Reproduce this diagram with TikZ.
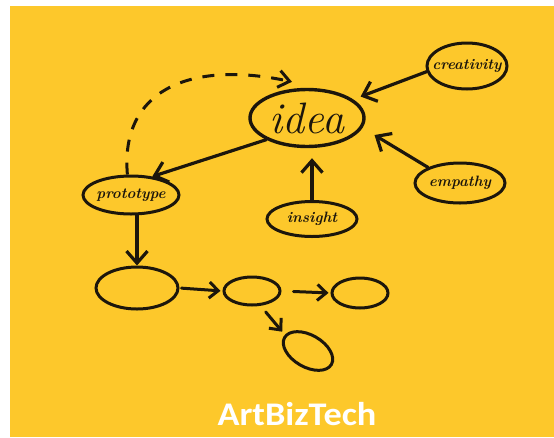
\documentclass[tikz,border=0pt]{standalone}
\usepackage{fontspec}
\newfontfamily\brandfont[FakeStretch=1.1]{Carlito}
\usetikzlibrary{shapes.geometric,arrows.meta,calc}
\definecolor{sunny}{RGB}{253,200,43}
\definecolor{ink}{RGB}{28,22,12}
\begin{document}
\begin{tikzpicture}[x=1pt,y=-1pt,
  bubble/.style={ellipse,draw=ink,line width=3pt,inner xsep=-10pt,inner ysep=0pt,
    text=ink,font=\fontsize{15}{17}\selectfont\bfseries\itshape},
  blank/.style={ellipse,draw=ink,line width=3pt,inner sep=0pt},
  arr/.style={draw=ink,line width=3.2pt,line cap=round,
    -{Straight Barb[length=12pt,width=21pt]}},
  smallarr/.style={draw=ink,line width=3pt,line cap=round,
    -{Straight Barb[length=9pt,width=16pt]}},
  loopback/.style={draw=ink,line width=3pt,dash pattern=on 12pt off 11pt,
    -{Straight Barb[length=11pt,width=17pt]}},
]
% canvas
\useasboundingbox (0,0) rectangle (554,437);
\fill[white] (0,0) rectangle (554,437);
\fill[sunny] (10,6) rectangle (554,437);

% concept bubbles
\node[bubble,line width=3.4pt,minimum width=114pt,minimum height=57pt,
      font=\fontsize{44}{46}\selectfont\itshape] (idea) at (307,118) {idea};
\node[bubble,minimum width=80pt,minimum height=46pt] (creat) at (467,66) {creativity};
\node[bubble,minimum width=90pt,minimum height=40pt] (emp) at (460,183) {empathy};
\node[bubble,minimum width=90pt,minimum height=35pt] (ins) at (312,219) {insight};
\node[bubble,minimum width=96pt,minimum height=38pt] (proto) at (131,195) {prototype};

% empty follow-up bubbles
\node[blank,minimum width=82pt,minimum height=42pt] (e1) at (137,288) {};
\node[blank,minimum width=56pt,minimum height=28pt] (e2) at (252,291) {};
\node[blank,minimum width=56pt,minimum height=30pt] (e3) at (360,293) {};
\node[blank,minimum width=54pt,minimum height=32pt,rotate=-30] (e4) at (308,351) {};

% inputs feeding the idea
\draw[arr,shorten >=8pt] (creat.188) -- (idea.22);
\draw[arr,shorten >=14pt] (emp.154) -- (idea.350);
\draw[arr,shorten >=10pt] (ins.north) -- (ins.north |- idea.south);

% idea to prototype and onwards
\draw[arr] (idea.208) -- (proto.41);
\draw[arr] (e1.north |- proto.south) -- (e1.north);
\draw[smallarr,shorten <=2pt,shorten >=2pt] (e1.east) -- (e2.west);
\draw[smallarr,shorten <=12pt,shorten >=2pt] (e2.east) -- (e3.west);
\draw[smallarr,shorten <=8pt,shorten >=4pt] (e2.-60) -- (e4.175);

% feedback loop from prototype back to idea
\coordinate (dashend) at ($(idea.north)+(-15,-6)$);
\draw[loopback] (proto.100) .. controls (120,90) and (190,60) .. (dashend);

% brand
\node[text=white,font=\brandfont\bfseries\fontsize{33}{36}\selectfont,anchor=base]
  (brand) at (297,425) {ArtBizTech};
\end{tikzpicture}
\end{document}
